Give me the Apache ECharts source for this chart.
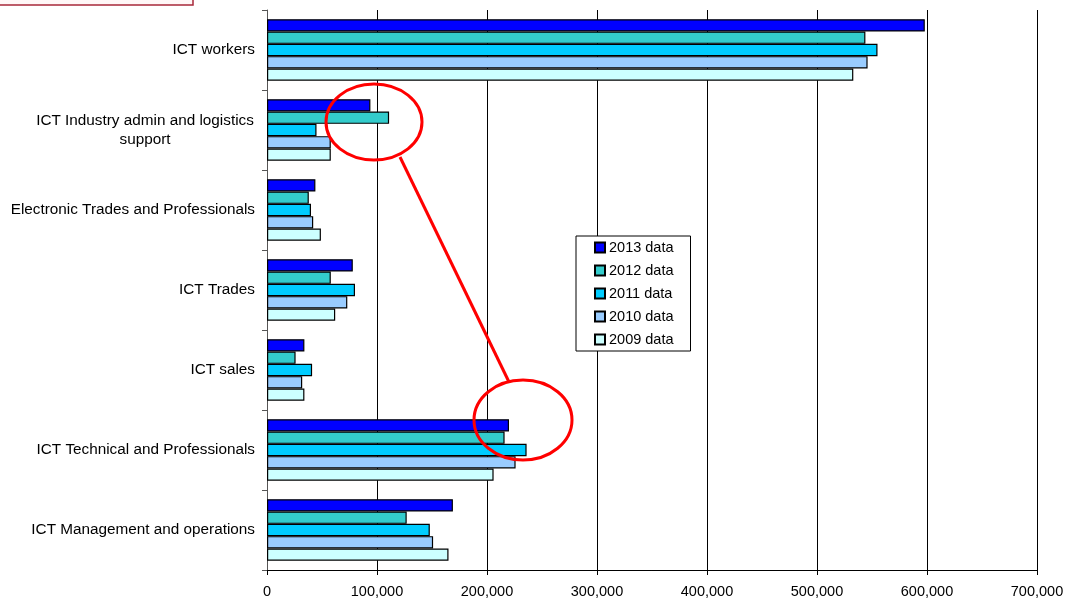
<!DOCTYPE html>
<html>
<head>
<meta charset="utf-8">
<title>ICT workforce by occupation group</title>
<script src="https://cdn.jsdelivr.net/npm/echarts@6/dist/echarts.min.js"></script>
<style>
  html, body { margin: 0; padding: 0; background: #ffffff; }
  #chart { width: 1069px; height: 601px; }
</style>
</head>
<body>
<div id="chart"></div>
<script>
// Occupation groups, listed top to bottom
const categories = [
  'ICT workers',
  'ICT Industry admin and logistics support',
  'Electronic Trades and Professionals',
  'ICT Trades',
  'ICT sales',
  'ICT Technical and Professionals',
  'ICT Management and operations'
];

// Head counts per year, same order as categories
const data2013 = [598000, 94000, 44000, 78000, 34000, 220000, 169000];
const data2012 = [544000, 111000, 38000, 58000, 26000, 216000, 127000];
const data2011 = [555000, 45000, 40000, 80000, 41000, 236000, 148000];
const data2010 = [546000, 58000, 42000, 73000, 32000, 226000, 151000];
const data2009 = [533000, 58000, 49000, 62000, 34000, 206000, 165000];

const seriesNames = ['2013 data', '2012 data', '2011 data', '2010 data', '2009 data'];
const seriesValues = [data2013, data2012, data2011, data2010, data2009];
const seriesColors = ['#0000ff', '#33cccc', '#00ccff', '#99ccff', '#ccffff'];

const FONT = '"Liberation Sans", Arial, sans-serif';

const chart = echarts.init(document.getElementById('chart'), null, { renderer: 'canvas' });

const option = {
  backgroundColor: '#ffffff',
  animation: false,
  textStyle: { fontFamily: FONT },
  grid: { left: 267, right: 32, top: 10, bottom: 31, containLabel: false },
  legend: {
    orient: 'vertical',
    left: 576,
    top: 236,
    padding: [4, 17, 4, 18],
    itemWidth: 10,
    itemHeight: 10,
    itemGap: 8,
    icon: 'rect',
    backgroundColor: '#ffffff',
    borderColor: '#000000',
    borderWidth: 1,
    textStyle: { fontFamily: FONT, fontSize: 14.5, color: '#000000', padding: [0, 0, 0, -1] },
    data: seriesNames
  },
  xAxis: {
    type: 'value',
    min: 0,
    max: 700000,
    interval: 100000,
    axisLine: { show: true, lineStyle: { color: '#000000', width: 1 } },
    axisTick: { show: true, length: 5, lineStyle: { color: '#000000' } },
    splitLine: { show: true, lineStyle: { color: '#000000', width: 1 } },
    axisLabel: {
      margin: 14,
      fontFamily: FONT,
      fontSize: 14.5,
      color: '#000000',
      formatter: v => v.toLocaleString('en-US')
    }
  },
  yAxis: {
    type: 'category',
    inverse: true,
    data: categories,
    axisLine: { show: true, lineStyle: { color: '#555555', width: 1 } },
    axisTick: { show: true, length: 5, lineStyle: { color: '#555555' } },
    splitLine: { show: false },
    axisLabel: {
      margin: 12,
      fontFamily: FONT,
      fontSize: 15.3,
      color: '#000000',
      lineHeight: 19,
      formatter: function (v) {
        if (v === 'ICT Industry admin and logistics support') {
          return '{c|ICT Industry admin and logistics}\n{c|support}';
        }
        return v;
      },
      rich: {
        c: { width: 220, align: 'center', fontSize: 15.3, fontFamily: FONT, color: '#000000', lineHeight: 19 }
      }
    }
  },
  series: seriesNames.map((name, i) => ({
    name: name,
    type: 'bar',
    data: seriesValues[i],
    barGap: '0%',
    barCategoryGap: '23%',
    itemStyle: { color: seriesColors[i], borderColor: '#000000', borderWidth: 1.2 },
    emphasis: { disabled: true }
  })),
  graphic: [
    // partly visible caption box in the top-left corner
    {
      type: 'rect',
      shape: { x: -4, y: -20, width: 197, height: 25 },
      style: { fill: '#fff7f7', stroke: '#a8283a', lineWidth: 1.5 },
      z: 10
    },
    // highlight rings and connector
    {
      type: 'ellipse',
      shape: { cx: 374, cy: 122, rx: 48, ry: 38 },
      style: { fill: 'none', stroke: '#ff0000', lineWidth: 3 },
      z: 20
    },
    {
      type: 'ellipse',
      shape: { cx: 523, cy: 420, rx: 49, ry: 40 },
      style: { fill: 'none', stroke: '#ff0000', lineWidth: 3 },
      z: 20
    },
    {
      type: 'line',
      shape: { x1: 400, y1: 157, x2: 509, y2: 382 },
      style: { stroke: '#ff0000', lineWidth: 3 },
      z: 20
    }
  ]
};

chart.setOption(option);
</script>
</body>
</html>
